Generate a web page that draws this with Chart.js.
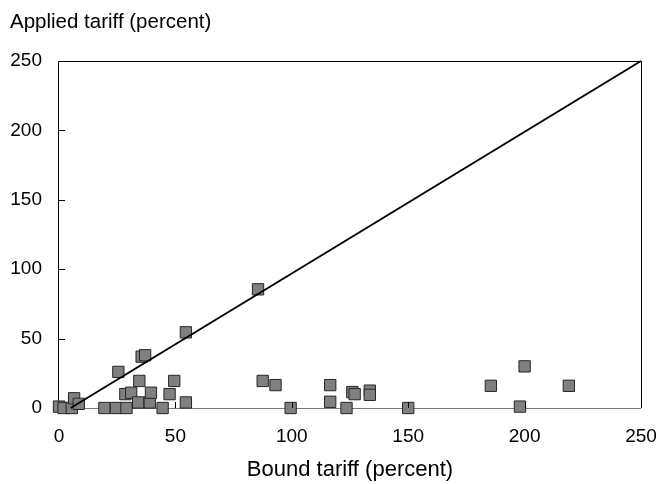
<!DOCTYPE html>
<html>
<head>
<meta charset="utf-8">
<script src="https://cdn.jsdelivr.net/npm/chart.js@4/dist/chart.umd.min.js"></script>
<style>
  html, body { margin: 0; padding: 0; background: #fff; }
  #wrap { width: 661px; height: 484px; }
</style>
</head>
<body>
<div id="wrap"><canvas id="c" width="661" height="484"></canvas></div>
<script>
// Data
const boundTariff = [0, 2, 5.5, 6.5, 8.5, 19.5, 24.5, 25.5, 29, 28.5, 31, 34.5, 34, 35.5, 37, 39, 39.5, 44.5, 47.5, 49.5, 54.5, 54.5, 85.5, 87.5, 93, 99.5, 116.5, 116.5, 123.5, 126, 127, 133.5, 133.5, 150, 185.5, 198, 200, 219];
const appliedTariff = [1, 0, 0, 7, 3, 0, 0, 26, 0, 10, 11, 19.5, 4, 37, 38, 4, 11, 0, 10, 19.5, 4, 54.5, 85.5, 19.5, 16.5, 0, 16.5, 4.5, 0, 11.5, 10, 12.5, 9.5, 0, 16, 1, 30, 16];
const refLineX = [5, 250];
const refLineY = [0, 250];
const axisTicks = [0, 50, 100, 150, 200, 250];
const xTitle = 'Bound tariff (percent)';
const yTitle = 'Applied tariff (percent)';

const FONT = 'Liberation Sans, Arial, sans-serif';

const points = boundTariff.map((x, i) => ({ x: x, y: appliedTariff[i] }));
const refLine = refLineX.map((x, i) => ({ x: x, y: refLineY[i] }));

const framePlugin = {
  id: 'frame',
  beforeDatasetsDraw(chart) {
    const { ctx, chartArea: a } = chart;
    ctx.save();
    ctx.lineWidth = 1;
    ctx.strokeStyle = '#000';
    ctx.beginPath();
    ctx.moveTo(Math.round(a.left) - 0.5, Math.round(a.bottom));
    ctx.lineTo(Math.round(a.left) - 0.5, Math.round(a.top) + 0.5);
    ctx.lineTo(Math.round(a.right) + 0.5, Math.round(a.top) + 0.5);
    ctx.lineTo(Math.round(a.right) + 0.5, Math.round(a.bottom));
    ctx.stroke();
    ctx.strokeStyle = '#7a7a7a';
    ctx.beginPath();
    ctx.moveTo(Math.round(a.left), Math.round(a.bottom) + 0.5);
    ctx.lineTo(Math.round(a.right), Math.round(a.bottom) + 0.5);
    ctx.stroke();
    ctx.restore();
  },
  afterDatasetsDraw(chart) {
    const { ctx, chartArea: a, scales } = chart;
    ctx.save();
    ctx.lineWidth = 1;
    ctx.strokeStyle = '#000';
    ctx.beginPath();
    axisTicks.slice(1, -1).forEach(v => {
      const py = Math.round(scales.y.getPixelForValue(v)) + 0.5;
      ctx.moveTo(Math.round(a.left), py);
      ctx.lineTo(Math.round(a.left) + 6, py);
      const px = Math.round(scales.x.getPixelForValue(v)) + 0.5;
      ctx.moveTo(px, Math.round(a.bottom));
      ctx.lineTo(px, Math.round(a.bottom) - 6);
    });
    ctx.stroke();
    ctx.restore();
  }
};

new Chart(document.getElementById('c'), {
  data: {
    datasets: [
      {
        type: 'line',
        data: refLine,
        borderColor: '#000',
        borderWidth: 2,
        pointRadius: 0,
        fill: false,
        clip: false,
        order: 0
      },
      {
        type: 'scatter',
        data: points,
        pointStyle: 'rect',
        pointRadius: 8,
        pointHoverRadius: 8,
        backgroundColor: '#808080',
        borderColor: '#262626',
        borderWidth: 1,
        clip: false,
        order: 1
      }
    ]
  },
  options: {
    responsive: false,
    animation: false,
    events: [],
    layout: { padding: { left: 10, right: 20, top: 0, bottom: 0 } },
    plugins: {
      legend: { display: false },
      tooltip: { enabled: false },
      title: {
        display: true,
        text: yTitle,
        align: 'start',
        color: '#000',
        font: { family: FONT, size: 20.5, weight: 'normal', lineHeight: 1.2 },
        padding: { top: 9.7, bottom: 26.7 }
      }
    },
    scales: {
      x: {
        type: 'linear',
        position: 'bottom',
        min: 0, max: 250,
        afterBuildTicks: s => { s.ticks = axisTicks.map(v => ({ value: v })); },
        afterFit: s => { s.height = 76; s.paddingLeft = 0; s.paddingRight = 0; },
        grid: { display: false, drawTicks: false },
        border: { display: false },
        ticks: { color: '#000', padding: 17, maxRotation: 0, font: { family: FONT, size: 19 } },
        title: {
          display: true,
          text: xTitle,
          color: '#000',
          font: { family: FONT, size: 22, lineHeight: 1.2 },
          padding: { top: 0, bottom: 0.8 }
        }
      },
      y: {
        type: 'linear',
        position: 'left',
        min: 0, max: 250,
        afterBuildTicks: s => { s.ticks = axisTicks.map(v => ({ value: v })); },
        afterFit: s => { s.width = 49; },
        grid: { display: false, drawTicks: false },
        border: { display: false },
        ticks: { color: '#000', padding: 17, font: { family: FONT, size: 19 } }
      }
    }
  },
  plugins: [framePlugin]
});
</script>
</body>
</html>
